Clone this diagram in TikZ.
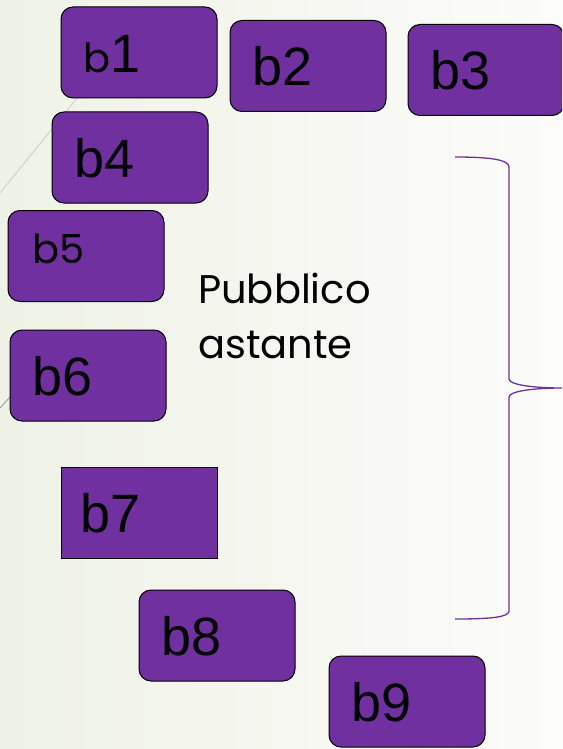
\documentclass[tikz,border=0pt]{standalone}
\usepackage{fontspec}
\setmainfont{Liberation Sans}
\newfontfamily\geo{Poppins}
\definecolor{boxpurple}{HTML}{7030A0}
\definecolor{bgleft}{HTML}{EFF2E6}
\definecolor{bgright}{HTML}{FCFCFA}
\definecolor{wisp}{HTML}{CFCFC4}
\definecolor{wispdark}{HTML}{9A9488}
\tikzset{
  bbox/.style={draw=black, line width=1pt, fill=boxpurple, rounded corners=12pt,
    minimum width=156pt, minimum height=91pt, inner xsep=22pt, inner ysep=0pt,
    text width=112pt, align=left, text height=40pt, text depth=0pt,
    font=\fontsize{54}{60}\selectfont, text=black},
  sqbox/.style={bbox, sharp corners},
  smallgeo/.style={font=\geo\fontsize{40}{44}\selectfont},
  bracestyle/.style={draw=boxpurple, line width=1.3pt},
}
\begin{document}
\begin{tikzpicture}[x=1pt,y=-1pt]
\useasboundingbox (0,0) rectangle (562,749);
\clip (0,0) rectangle (562,749);
\shade[left color=bgleft, right color=bgright] (0,0) rectangle (562,749);
% decorative theme lines
\draw[wisp, line width=0.8pt] (0,193) -- (95,76);
\draw[wispdark, line width=0.8pt] (0,408) -- (30,375);
% boxes
\node[bbox] (b1) at (139,52.5) {{\geo\fontsize{40}{44}\selectfont b}1};
\node[bbox] (b2) at (308,66) {b2};
\node[bbox] (b3) at (486,70) {b3};
\node[bbox] (b4) at (130,157.5) {b4};
\node[bbox, smallgeo, text depth=26pt, inner xsep=24pt, text width=108pt] (b5) at (86,256) {b5};
\node[bbox] (b6) at (88,375.5) {b6};
\node[sqbox, inner xsep=19pt, text width=118pt] (b7) at (139,512.5) {b7};
\node[bbox] (b8) at (217,635.5) {b8};
\node[bbox] (b9) at (407,701.5) {b9};
% label
\node[anchor=base west, align=left, inner sep=0pt, font=\geo\fontsize{40}{55}\selectfont] (pub) at (198,358) {Pubblico\\astante};
% brace
\coordinate (btop) at (455,157);
\coordinate (btip) at (562,388);
\coordinate (bbot) at (455,619);
\draw[bracestyle] (btop) .. controls (492,157) and (509,160) .. (509,167) -- (509,379)
  .. controls (509,385) and (535,388) .. (btip)
  .. controls (535,388) and (509,391) .. (509,397) -- (509,611)
  .. controls (509,617) and (492,619) .. (bbot);
\end{tikzpicture}
\end{document}
